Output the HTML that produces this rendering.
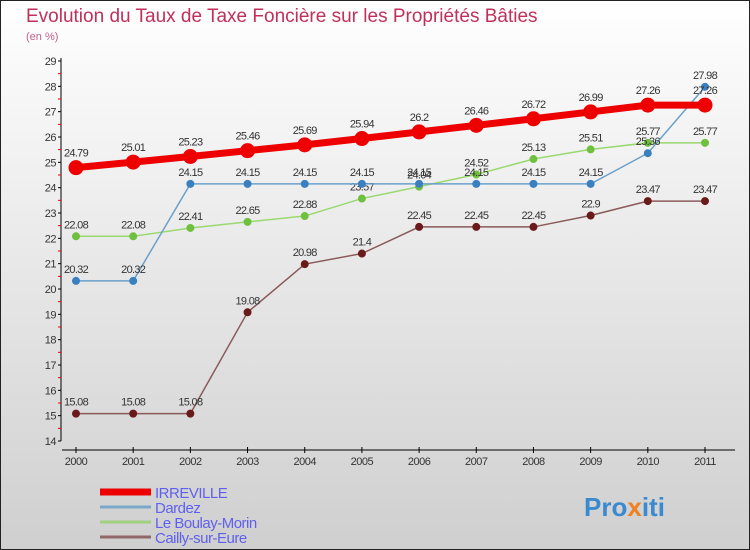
<!DOCTYPE html>
<html><head><meta charset="utf-8"><style>
body{margin:0;width:750px;height:550px;overflow:hidden;font-family:"Liberation Sans",sans-serif}
svg{display:block}
</style></head><body>
<svg id="c" width="750" height="550">
<defs><linearGradient id="bg" x1="0" y1="0" x2="0" y2="1"><stop offset="0" stop-color="#ffffff"/><stop offset="1" stop-color="#cfcfcf"/></linearGradient></defs>
<rect x="0.5" y="0.5" width="749" height="549" fill="url(#bg)" stroke="#222"/>
<text x="26" y="22" font-size="19" fill="#c0305a">Evolution du Taux de Taxe Foncière sur les Propriétés Bâties</text>
<text x="26" y="40" font-size="11" fill="#c0608a">(en %)</text>
<g id="g"></g>
<text x="584" y="516" font-size="26" font-weight="bold" fill="#3a8ad0">Pro<tspan fill="#f08020">x</tspan><tspan fill="#3a8ad0">iti</tspan></text>
</svg>
<script>
const years=[2000,2001,2002,2003,2004,2005,2006,2007,2008,2009,2010,2011];
const irreville=[24.79,25.01,25.23,25.46,25.69,25.94,26.2,26.46,26.72,26.99,27.26,27.26];
const dardez=[20.32,20.32,24.15,24.15,24.15,24.15,24.15,24.15,24.15,24.15,25.36,27.98];
const boulay=[22.08,22.08,22.41,22.65,22.88,23.57,24.04,24.52,25.13,25.51,25.77,25.77];
const cailly=[15.08,15.08,15.08,19.08,20.98,21.4,22.45,22.45,22.45,22.9,23.47,23.47];
const yTicks=[14,15,16,17,18,19,20,21,22,23,24,25,26,27,28,29];
const NS="http://www.w3.org/2000/svg";
const g=document.getElementById('g');
const X=i=>76+i*(705-76)/11;
const Y=v=>441-(v-14)*(441-61)/15;
function el(t,a,txt){const e=document.createElementNS(NS,t);for(const k in a)e.setAttribute(k,a[k]);if(txt!==undefined)e.textContent=txt;g.appendChild(e);return e;}
let e=el('line',{x1:61,y1:58,x2:61,y2:441,stroke:'#000'});


e=el('line',{x1:62,y1:450,x2:735,y2:450,stroke:'#000'});


yTicks.forEach(v=>{
 el('line',{x1:58,y1:Y(v),x2:61,y2:Y(v),stroke:'#000'});
 if(v<29)el('line',{x1:58,y1:Y(v+0.5),x2:61,y2:Y(v+0.5),stroke:'#e00'});
 const t=el('text',{x:56,y:Y(v)+4,'font-size':11,fill:'#333','text-anchor':'end','letter-spacing':'-0.5'},v);
 
 
});
years.forEach((y,i)=>{
 el('line',{x1:X(i),y1:447,x2:X(i),y2:453,stroke:'#000'});
 const t=el('text',{x:X(i),y:465,'font-size':11,fill:'#333','text-anchor':'middle','letter-spacing':'-0.5'},y);
 
 
});
function series(name,vals,color,lw,r,dot,off){
 const pts=vals.map((v,i)=>X(i)+','+Y(v)).join(' ');
 const p=el('polyline',{points:pts,fill:'none',stroke:color,'stroke-width':lw});
 
 
 vals.forEach((v,i)=>{
  const c=el('circle',{cx:X(i),cy:Y(v),r:r,fill:dot,stroke:dot});
  
  
  const t=el('text',{x:X(i),y:Y(v)-off,'font-size':11,fill:'#333','text-anchor':'middle','letter-spacing':'-0.7'},v);
  
  
 });
}
series('cailly',cailly,'#8a5a5a',1.5,3.5,'#6a1a1a',8);
series('boulay',boulay,'#9ad870',1.5,3.5,'#70c040',8);
series('dardez',dardez,'#6aa0cc',1.5,3.5,'#3a80c0',8);
series('irreville',irreville,'#ee0000',7,7,'#ee0000',11);
const leg=[['IRREVILLE','#ee0000',7],['Dardez','#7aa8c8',3],['Le Boulay-Morin','#a0d080',3],['Cailly-sur-Eure','#906868',3]];
leg.forEach((l,i)=>{
 const y=492+i*15;
 const ln=el('line',{x1:100,y1:y,x2:151,y2:y,stroke:l[1],'stroke-width':l[2]});
 
 
 const t=el('text',{x:155,y:y+6,'font-size':15,fill:'#6060ee','letter-spacing':'-0.5'},l[0]);
 
 
});
</script>
</body></html>
